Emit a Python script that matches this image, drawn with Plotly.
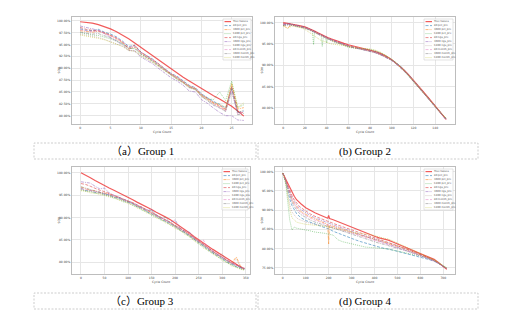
import plotly.graph_objects as go

W, H = 513, 328

# ---------------- series labels ----------------
LABELS = ["True Values", "80 pct_pre", "3600 pct_pre", "C400 pct_pre",
          "80 ngs_pre", "3600 ngs_pre", "C400 ngs_pre",
          "80 month_pre", "3600 month_pre", "C400 month_pre"]

# ---------------- Group 1 ----------------
g1_x = list(range(28))
g1_true = [99.8, 99.7, 99.5, 99.2, 98.8, 98.3, 97.7, 97.0, 96.2, 95.3, 94.4, 93.5, 92.6, 91.7,
           90.7, 89.8, 88.9, 88.1, 87.3, 86.5, 85.7, 85.0, 84.2, 83.5, 82.8, 82.0, 81.0, 79.9]
g1_p80 = [98.3, 98.0, 97.9, 98.2, 97.6, 97.2, 96.6, 95.7, 94.6, 94.8, 93.4, 92.7, 91.9, 90.8,
          89.9, 88.9, 88.3, 87.3, 86.4, 85.9, 84.6, 83.8, 83.0, 82.4, 81.6, 85.6, 80.6, 81.0]
g1_p3600 = [97.9, 97.7, 97.6, 97.8, 97.4, 96.9, 96.2, 95.4, 94.0, 94.5, 93.2, 92.4, 91.6, 90.6,
            89.7, 88.7, 88.0, 87.1, 86.2, 85.6, 84.2, 83.5, 82.6, 82.0, 81.2, 86.6, 81.4, 81.7]
g1_pC400 = [97.5, 97.2, 97.0, 96.9, 96.6, 96.2, 95.7, 95.1, 94.3, 94.1, 93.0, 92.3, 91.4, 90.5,
            89.5, 88.6, 87.8, 87.0, 86.0, 85.6, 84.4, 83.6, 83.4, 85.0, 83.2, 87.3, 81.7, 82.3]
g1_n80 = [98.6, 98.2, 98.0, 97.9, 97.5, 97.0, 96.4, 95.5, 94.2, 94.9, 93.4, 92.6, 91.8, 90.9,
          89.8, 88.8, 88.1, 87.2, 86.2, 85.8, 84.5, 83.7, 82.8, 82.2, 81.4, 86.2, 80.9, 80.6]
g1_n3600 = [98.9, 98.6, 98.3, 98.0, 97.3, 96.5, 95.8, 94.9, 93.8, 93.6, 92.4, 91.6, 90.9, 89.9,
            88.9, 88.0, 87.3, 86.4, 85.2, 85.0, 83.4, 82.6, 81.6, 80.7, 80.0, 80.0, 79.1, 79.0]
g1_nC400 = [97.2, 97.0, 96.7, 96.5, 96.1, 95.6, 95.1, 94.6, 93.8, 93.7, 92.7, 92.0, 91.2, 90.3,
            89.4, 88.4, 87.6, 86.8, 85.8, 85.5, 84.0, 83.3, 82.3, 81.8, 81.0, 84.8, 80.6, 81.2]
g1_m80 = [98.1, 97.9, 97.7, 97.9, 97.4, 96.9, 96.3, 95.6, 94.4, 94.6, 93.3, 92.5, 91.7, 90.7,
          89.7, 88.8, 88.0, 87.1, 86.1, 85.7, 84.3, 83.5, 82.5, 81.8, 81.0, 85.4, 80.3, 80.8]
g1_m3600 = [97.6, 97.4, 97.2, 97.3, 96.9, 96.4, 95.9, 95.2, 94.1, 94.3, 93.0, 92.2, 91.5, 90.5,
            89.5, 88.6, 87.8, 87.0, 86.0, 85.5, 84.1, 83.2, 82.2, 81.6, 80.9, 85.9, 80.2, 80.5]
g1_mC400 = [97.0, 96.8, 96.5, 96.3, 96.0, 95.5, 95.0, 94.6, 93.7, 93.6, 92.6, 92.0, 91.2, 90.3,
            89.4, 88.5, 87.7, 86.9, 86.0, 85.6, 84.3, 83.4, 82.7, 82.4, 81.8, 86.9, 81.8, 82.7]

# ---------------- Group 2 ----------------
g2_x = [0, 4, 8, 12, 16, 20, 24, 27, 28, 29, 32, 35, 36, 37, 39, 40, 41, 44, 48, 52, 56, 60,
        65, 70, 75, 80, 85, 90, 95, 100, 105, 110, 115, 120, 125, 130, 135, 140, 145, 150]
g2_true = [100.0, 99.85, 99.7, 99.5, 99.25, 99.0, 98.6, 98.2, 98.1, 98.0, 97.6, 97.2, 97.1, 97.0,
           96.7, 96.6, 96.5, 96.2, 95.8, 95.5, 95.1, 94.8, 94.5, 94.2, 93.9, 93.6, 93.2, 92.7,
           92.1, 91.3, 90.3, 89.2, 87.9, 86.5, 85.0, 83.5, 82.0, 80.5, 78.9, 77.3]
g2_p80 = [99.6, 99.7, 99.6, 99.4, 99.2, 98.9, 98.5, 98.1, 98.0, 97.9, 97.5, 97.1, 97.0, 96.9,
          96.6, 96.5, 96.4, 96.0, 95.6, 95.2, 94.8, 94.5, 94.2, 94.0, 93.7, 93.4, 93.1, 92.6,
          92.0, 91.3, 90.4, 89.3, 87.9, 86.4, 84.9, 83.4, 81.9, 80.4, 78.9, 77.4]
g2_p3600 = [99.4, 98.7, 99.5, 99.3, 99.1, 98.8, 98.4, 98.0, 97.9, 97.8, 97.4, 97.0, 96.9, 96.8,
            96.5, 96.4, 96.3, 95.9, 95.5, 95.1, 94.7, 94.4, 94.1, 93.9, 93.7, 93.4, 93.0, 92.5,
            91.9, 91.2, 90.2, 89.1, 87.7, 86.2, 84.8, 83.3, 81.8, 80.3, 78.8, 77.5]
g2_pC400 = [99.3, 99.5, 99.4, 99.2, 99.0, 98.7, 98.3, 97.9, 94.8, 97.8, 97.3, 96.9, 94.4, 96.7,
            96.4, 95.2, 96.2, 95.8, 95.3, 95.0, 94.6, 94.2, 94.0, 93.9, 93.8, 93.7, 93.4, 92.9,
            92.2, 91.3, 90.3, 89.0, 87.6, 86.0, 84.6, 83.2, 81.7, 80.2, 78.7, 77.6]
g2_n80 = [99.7, 99.8, 99.6, 99.4, 99.2, 98.9, 98.5, 98.1, 98.0, 97.9, 97.5, 97.1, 97.0, 96.9,
          96.6, 96.5, 96.4, 96.1, 95.7, 95.3, 94.9, 94.6, 94.3, 94.0, 93.7, 93.4, 93.0, 92.5,
          91.9, 91.2, 90.2, 89.1, 87.8, 86.3, 84.9, 83.4, 81.9, 80.4, 78.8, 77.3]
g2_n3600 = [99.5, 99.6, 99.5, 99.3, 99.1, 98.8, 98.4, 98.0, 97.9, 97.8, 97.4, 97.0, 96.9, 96.8,
            96.5, 96.4, 96.3, 96.0, 95.6, 95.2, 94.8, 94.5, 94.2, 93.9, 93.6, 93.3, 92.9, 92.4,
            91.8, 91.1, 90.1, 89.0, 87.7, 86.2, 84.7, 83.2, 81.7, 80.2, 78.7, 77.2]
g2_nC400 = [99.2, 99.4, 99.3, 99.1, 98.9, 98.6, 98.2, 97.8, 97.7, 97.6, 97.2, 96.8, 96.7, 96.6,
            96.3, 96.2, 96.1, 95.8, 95.4, 95.0, 94.7, 94.4, 94.1, 93.9, 93.7, 93.5, 93.1, 92.6,
            92.0, 91.2, 90.2, 89.1, 87.7, 86.2, 84.7, 83.3, 81.8, 80.3, 78.8, 77.4]
g2_m80 = [99.6, 99.7, 99.5, 99.3, 99.1, 98.8, 98.4, 98.0, 97.9, 97.8, 97.4, 97.0, 96.9, 96.8,
          96.5, 96.4, 96.3, 96.0, 95.6, 95.2, 94.8, 94.5, 94.2, 93.9, 93.7, 93.4, 93.0, 92.5,
          91.9, 91.2, 90.2, 89.1, 87.8, 86.3, 84.8, 83.3, 81.8, 80.3, 78.8, 77.3]
g2_m3600 = [99.3, 99.5, 99.4, 99.2, 99.0, 98.7, 98.3, 97.9, 97.8, 97.7, 97.3, 96.9, 96.8, 96.7,
            96.4, 96.3, 96.2, 95.9, 95.5, 95.1, 94.7, 94.4, 94.1, 93.8, 93.6, 93.3, 92.9, 92.4,
            91.8, 91.1, 90.1, 89.0, 87.7, 86.2, 84.7, 83.2, 81.7, 80.2, 78.7, 77.3]
g2_mC400 = [99.2, 98.6, 99.2, 99.0, 98.8, 98.4, 97.8, 97.2, 97.0, 96.8, 96.2, 95.8, 95.6, 95.6,
            95.5, 95.4, 95.3, 95.0, 94.9, 94.8, 94.6, 94.4, 94.2, 94.0, 93.9, 93.8, 93.5, 93.0,
            92.3, 91.4, 90.4, 89.2, 87.8, 86.3, 84.8, 83.4, 81.9, 80.4, 78.9, 77.6]

# ---------------- Group 3 ----------------
g3_x = [0, 10, 20, 30, 40, 50, 60, 70, 80, 90, 100, 110, 120, 130, 140, 150, 160, 170, 180,
        190, 200, 210, 220, 230, 240, 250, 260, 270, 280, 290, 300, 310, 320, 330, 340, 347]
g3_true = [100.0, 99.5, 98.9, 98.3, 97.7, 97.2, 96.6, 96.1, 95.6, 95.0, 94.5, 94.0, 93.4, 92.9,
           92.3, 91.8, 91.2, 90.7, 90.1, 89.5, 88.8, 88.1, 87.4, 86.6, 85.8, 85.0, 84.3, 83.6,
           82.9, 82.2, 81.5, 80.8, 80.1, 79.5, 78.9, 78.5]
g3_p80 = [96.6, 96.0, 96.1, 95.6, 95.7, 95.2, 95.1, 94.5, 94.4, 93.8, 93.5, 93.1, 92.4, 92.1,
          91.3, 90.9, 90.4, 89.7, 89.2, 88.6, 88.1, 87.3, 86.7, 86.0, 85.2, 84.4, 83.6, 82.9,
          82.1, 81.5, 80.8, 80.1, 79.6, 79.0, 78.7, 78.5]
g3_p3600 = [96.8, 96.4, 96.1, 96.0, 95.6, 95.5, 95.3, 94.8, 94.6, 94.0, 93.7, 93.3, 92.6, 92.3,
            91.6, 91.1, 90.6, 90.0, 89.4, 88.9, 88.2, 87.6, 87.0, 86.2, 85.4, 84.6, 83.9, 83.1,
            82.4, 81.8, 81.0, 80.4, 79.9, 81.2, 78.9, 78.7]
g3_pC400 = [96.2, 95.9, 95.8, 95.4, 95.4, 95.0, 94.8, 94.3, 94.1, 93.5, 93.4, 92.7, 92.4, 91.6,
            91.3, 90.5, 90.2, 89.4, 89.1, 88.3, 87.9, 87.1, 86.6, 85.7, 85.1, 84.1, 83.5, 82.6,
            82.1, 81.2, 80.7, 79.9, 79.4, 78.9, 78.5, 78.3]
g3_n80 = [97.6, 97.4, 97.0, 96.5, 96.1, 95.8, 95.4, 95.0, 94.6, 94.2, 93.8, 93.3, 92.8, 92.3,
          91.7, 91.2, 90.6, 90.1, 89.5, 88.9, 88.3, 87.7, 87.0, 86.3, 85.5, 84.7, 83.9, 83.2,
          82.5, 81.8, 81.1, 80.5, 79.9, 79.4, 79.0, 78.7]
g3_n3600 = [98.0, 97.9, 97.7, 97.0, 96.4, 96.6, 95.5, 95.0, 94.6, 94.2, 93.8, 93.3, 92.8, 92.2,
            91.7, 91.8, 90.6, 90.0, 89.5, 88.9, 89.5, 87.7, 87.0, 86.8, 85.5, 84.7, 83.9, 83.2,
            82.5, 81.8, 81.1, 80.5, 79.9, 79.3, 78.9, 78.6]
g3_nC400 = [96.3, 96.0, 95.9, 95.6, 95.4, 95.2, 94.9, 94.6, 94.2, 93.8, 93.4, 92.9, 92.4, 91.9,
            91.3, 90.8, 90.2, 89.7, 89.1, 88.5, 87.9, 87.3, 86.6, 85.9, 85.1, 84.3, 83.5, 82.8,
            82.1, 81.4, 81.9, 80.1, 79.5, 80.8, 78.6, 78.4]
g3_m80 = [96.5, 96.3, 96.1, 95.9, 95.7, 95.5, 95.2, 94.9, 94.5, 94.1, 93.7, 93.2, 92.7, 92.2,
          91.6, 91.1, 90.5, 90.0, 89.4, 88.8, 88.2, 87.6, 86.9, 86.2, 85.4, 84.6, 85.0, 83.1,
          82.4, 81.7, 81.0, 80.4, 79.8, 79.3, 78.9, 78.7]
g3_m3600 = [96.9, 96.6, 96.3, 95.9, 95.6, 95.4, 95.1, 94.8, 94.4, 94.0, 93.6, 93.1, 92.6, 92.1,
            91.5, 91.6, 90.4, 89.9, 90.0, 88.7, 88.1, 87.5, 86.8, 86.1, 85.3, 84.5, 83.7, 83.0,
            82.3, 81.6, 80.9, 80.3, 79.7, 79.2, 78.8, 78.6]
g3_mC400 = [96.0, 95.9, 95.5, 95.5, 95.1, 95.0, 94.6, 94.5, 93.9, 93.7, 93.1, 92.8, 92.1, 91.8,
            91.0, 90.7, 89.9, 89.6, 88.8, 88.4, 87.6, 87.2, 86.3, 85.8, 84.8, 84.2, 83.2, 82.7,
            81.8, 81.3, 80.4, 80.0, 79.2, 78.9, 78.4, 78.3]

# ---------------- Group 4 ----------------
g4_x = [0, 5, 10, 15, 20, 25, 30, 40, 50, 60, 70, 80, 100, 120, 140, 160, 180, 196, 200, 204,
        220, 240, 260, 280, 300, 320, 340, 360, 380, 400, 420, 440, 460, 480, 500, 520, 540,
        560, 580, 600, 620, 640, 660, 680, 700, 715]
g4_true = [99.6, 99.0, 98.3, 97.6, 97.0, 96.4, 95.9, 94.9, 93.6, 92.7, 92.1, 91.6, 90.6, 89.9,
           89.3, 88.8, 88.3, 87.9, 88.6, 87.8, 87.5, 87.0, 86.6, 86.2, 85.6, 85.0, 84.5, 84.0,
           83.5, 83.2, 82.8, 82.5, 82.2, 81.7, 81.2, 80.7, 80.3, 79.8, 79.3, 78.8, 78.3, 77.8,
           77.2, 76.3, 75.4, 74.6]
g4_p80 = [99.6, 99.0, 98.0, 96.8, 95.5, 94.2, 93.0, 91.2, 90.0, 89.1, 88.5, 88.0, 87.3, 86.8,
          86.3, 85.9, 85.5, 85.2, 85.0, 85.0, 84.5, 84.0, 83.5, 83.0, 82.6, 82.2, 81.8, 81.4,
          81.0, 80.7, 80.4, 80.1, 79.9, 79.6, 79.3, 79.0, 78.7, 78.4, 78.1, 77.8, 77.5, 77.2,
          76.8, 76.1, 75.4, 74.9]
g4_p3600 = [99.6, 99.0, 98.2, 97.3, 96.3, 95.3, 94.4, 92.8, 91.7, 90.8, 90.1, 89.6, 88.8, 88.2,
            87.7, 87.2, 86.7, 86.3, 81.2, 86.1, 85.8, 85.5, 85.1, 84.7, 84.3, 83.9, 83.5, 83.1,
            82.7, 82.4, 82.0, 81.7, 81.4, 81.0, 80.6, 80.2, 79.8, 79.4, 79.0, 78.5, 78.0, 77.5,
            77.0, 76.2, 75.4, 74.8]
g4_pC400 = [99.6, 98.8, 97.5, 95.8, 93.5, 90.5, 87.5, 84.8, 85.6, 85.3, 85.2, 85.0, 84.9, 84.6,
            84.3, 84.2, 84.0, 83.8, 83.8, 83.7, 83.5, 82.3, 81.8, 81.5, 81.2, 80.9, 80.6, 80.4,
            80.3, 80.2, 80.1, 80.0, 79.9, 79.6, 79.3, 79.0, 78.8, 78.5, 78.3, 78.1, 77.8, 77.4,
            77.0, 76.3, 75.4, 75.0]
g4_n80 = [99.6, 99.0, 98.3, 97.5, 96.7, 95.9, 95.2, 93.8, 92.7, 91.8, 91.1, 90.6, 89.7, 89.0,
          88.4, 87.9, 87.4, 87.0, 86.9, 86.8, 86.5, 86.1, 85.7, 85.3, 84.9, 84.4, 84.0, 83.6,
          83.1, 82.7, 82.3, 81.9, 81.5, 81.1, 80.7, 80.3, 79.9, 79.4, 79.0, 78.5, 78.0, 77.5,
          76.9, 76.2, 75.3, 74.7]
g4_n3600 = [99.6, 99.0, 98.2, 97.4, 96.5, 95.6, 94.8, 93.3, 92.2, 91.3, 90.6, 90.1, 89.3, 88.6,
            88.0, 87.5, 87.0, 86.6, 86.5, 86.4, 86.1, 85.7, 85.3, 84.9, 84.5, 84.1, 83.7, 83.3,
            82.9, 82.5, 82.1, 81.7, 81.3, 80.9, 80.5, 80.1, 79.7, 79.3, 78.8, 78.3, 77.8, 77.3,
            76.8, 76.1, 75.3, 74.8]
g4_nC400 = [99.6, 99.0, 98.0, 96.7, 95.1, 93.3, 91.5, 89.5, 88.6, 88.0, 87.6, 87.3, 86.9, 86.6,
            86.3, 86.1, 85.9, 85.7, 85.6, 85.5, 85.3, 85.0, 84.7, 84.4, 84.1, 83.7, 83.4, 83.1,
            82.8, 82.5, 82.2, 81.9, 81.6, 81.2, 80.8, 80.4, 80.0, 79.5, 79.1, 78.6, 78.1, 77.6,
            77.0, 76.2, 75.4, 74.9]
g4_m80 = [99.6, 99.0, 98.2, 97.2, 96.2, 95.2, 94.2, 92.6, 91.4, 90.5, 89.8, 89.3, 88.5, 87.9,
          87.4, 86.9, 86.5, 86.1, 86.0, 85.9, 85.6, 85.2, 84.8, 84.4, 84.0, 83.6, 83.2, 82.8,
          82.4, 82.0, 81.7, 81.3, 81.0, 80.6, 80.2, 79.8, 79.5, 79.1, 78.7, 78.3, 77.9, 77.4,
          76.9, 76.2, 75.4, 74.8]
g4_m3600 = [99.6, 99.0, 98.1, 97.0, 95.9, 94.8, 93.8, 92.1, 90.9, 90.0, 89.3, 88.8, 88.0, 87.4,
            86.9, 86.5, 86.1, 85.8, 85.7, 85.6, 85.3, 84.9, 84.5, 84.1, 83.7, 83.3, 82.9, 82.5,
            82.1, 81.8, 81.4, 81.1, 80.8, 80.4, 80.1, 79.7, 79.4, 79.0, 78.6, 78.2, 77.8, 77.3,
            76.8, 76.2, 75.4, 74.8]
g4_mC400 = [99.6, 98.9, 97.8, 96.4, 94.6, 92.5, 90.3, 88.0, 87.3, 86.9, 86.7, 86.5, 86.3, 86.2,
            86.1, 86.0, 85.9, 85.7, 85.6, 85.6, 85.4, 85.1, 84.8, 84.6, 84.3, 84.1, 83.9, 83.8,
            83.7, 83.3, 83.1, 82.7, 82.5, 82.0, 81.5, 80.9, 80.4, 79.9, 79.3, 78.7, 78.2, 77.7,
            77.1, 76.3, 75.5, 75.0]

# ---------------- tick values ----------------
g1_xticks = [0, 5, 10, 15, 20, 25]
g1_yticks = [80, 82.5, 85, 87.5, 90, 92.5, 95, 97.5, 100]
g2_xticks = [0, 20, 40, 60, 80, 100, 120, 140]
g2_yticks = [80, 85, 90, 95, 100]
g3_xticks = [0, 50, 100, 150, 200, 250, 300, 350]
g3_yticks = [80, 85, 90, 95, 100]
g4_xticks = [0, 100, 200, 300, 400, 500, 600, 700]
g4_yticks = [75, 80, 85, 90, 95, 100]

CAPTIONS = ["（a）Group 1", "(b) Group 2", "（c）Group 3", "(d) Group 4"]

# ---------------- styles ----------------
COLORS = ["rgba(238,50,50,0.8)", "rgba(31,119,180,0.7)", "rgba(255,127,14,0.7)",
          "rgba(44,160,44,0.55)", "rgba(214,39,40,0.65)", "rgba(148,103,189,0.7)",
          "rgba(140,86,75,0.4)", "rgba(227,119,194,0.65)", "rgba(127,127,127,0.65)",
          "rgba(188,189,34,0.6)"]
DASHES = ["solid", "3px,1.5px", "3px,1px,1px,1px", "1px,1px", "3px,1.5px", "3px,1px,1px,1px",
          "1px,1px", "3px,1.5px", "3px,1px,1px,1px", "1px,1px"]
WIDTHS = [1.2, 0.8, 0.8, 0.8, 0.8, 0.8, 0.8, 0.8, 0.8, 0.8]

groups = [
    (g1_x, [g1_true, g1_p80, g1_p3600, g1_pC400, g1_n80, g1_n3600, g1_nC400, g1_m80, g1_m3600, g1_mC400]),
    (g2_x, [g2_true, g2_p80, g2_p3600, g2_pC400, g2_n80, g2_n3600, g2_nC400, g2_m80, g2_m3600, g2_mC400]),
    (g3_x, [g3_true, g3_p80, g3_p3600, g3_pC400, g3_n80, g3_n3600, g3_nC400, g3_m80, g3_m3600, g3_mC400]),
    (g4_x, [g4_true, g4_p80, g4_p3600, g4_pC400, g4_n80, g4_n3600, g4_nC400, g4_m80, g4_m3600, g4_mC400]),
]

# panel geometry in pixels: frame (left, top, right, bottom), legend box, caption box
panels = [
    dict(frame=(72, 17, 252, 124), xr=[-1.35, 28.35], yr=[78.25, 100.8],
         xt=g1_xticks, yt=g1_yticks, leg=(223, 19, 251, 60), cap=(34, 143, 256, 159)),
    dict(frame=(275, 17, 455, 124), xr=[-7.5, 158.2], yr=[76.2, 101.3],
         xt=g2_xticks, yt=g2_yticks, leg=(424, 19, 453, 60), cap=(258, 143, 478, 159)),
    dict(frame=(72, 167, 250, 274), xr=[-19, 359], yr=[77.4, 101.3],
         xt=g3_xticks, yt=g3_yticks, leg=(222, 169, 248, 210), cap=(34, 293, 256, 309)),
    dict(frame=(275, 167, 455, 274), xr=[-34, 751], yr=[73.4, 101.2],
         xt=g4_xticks, yt=g4_yticks, leg=(424, 169, 453, 210), cap=(258, 293, 478, 309)),
]

SERIF = "'Liberation Serif', 'Times New Roman', 'Noto Sans CJK SC', serif"


def fx(px):
    return px / W


def fy(py):
    return 1 - py / H


fig = go.Figure()
layout = dict(width=W, height=H, margin=dict(l=0, r=0, t=0, b=0),
              paper_bgcolor="white", plot_bgcolor="white", showlegend=False)
shapes, annotations = [], []
tick_font = dict(family="DejaVu Sans", size=3, color="#444")

for i, ((xs, series), p) in enumerate(zip(groups, panels)):
    n = "" if i == 0 else str(i + 1)
    xa, ya = "x" + n, "y" + n
    l, t, r, b = p["frame"]
    for k, ys in enumerate(series):
        fig.add_trace(go.Scatter(x=xs, y=ys, mode="lines", name=LABELS[k], xaxis=xa, yaxis=ya,
                                 line=dict(color=COLORS[k], width=WIDTHS[k], dash=DASHES[k])))
    common = dict(showgrid=True, gridcolor="#e6e6e6", gridwidth=0.8, zeroline=False,
                  showline=True, mirror=True, linecolor="#bdbdbd", linewidth=1,
                  ticks="", tickfont=tick_font, automargin=False)
    layout["xaxis" + n] = dict(domain=[fx(l), fx(r)], anchor=ya, range=p["xr"],
                               tickmode="array", tickvals=p["xt"],
                               ticktext=[str(v) for v in p["xt"]], **common)
    layout["yaxis" + n] = dict(domain=[fy(b), fy(t)], anchor=xa, range=p["yr"],
                               tickmode="array", tickvals=p["yt"],
                               ticktext=[f"{v:.2f}%" for v in p["yt"]], **common)
    # axis titles
    annotations.append(dict(text="SOH", x=fx(l - 14), y=fy((t + b) / 2), xref="paper", yref="paper",
                            textangle=-90, showarrow=False, font=tick_font,
                            xanchor="center", yanchor="middle"))
    annotations.append(dict(text="Cycle Count", x=fx((l + r) / 2), y=fy(b + 7.5), xref="paper",
                            yref="paper", showarrow=False, font=tick_font,
                            xanchor="center", yanchor="middle"))
    # legend box
    ll, lt, lr, lb = p["leg"]
    shapes.append(dict(type="rect", xref="paper", yref="paper", x0=fx(ll), x1=fx(lr),
                       y0=fy(lb), y1=fy(lt), fillcolor="rgba(255,255,255,0.85)",
                       line=dict(color="#d0d0d0", width=0.6), layer="above"))
    for k, name in enumerate(LABELS):
        yy = lt + 2.6 + k * 4.0
        shapes.append(dict(type="line", xref="paper", yref="paper", x0=fx(ll + 1.5),
                           x1=fx(ll + 8), y0=fy(yy), y1=fy(yy), layer="above",
                           line=dict(color=COLORS[k], width=WIDTHS[k], dash=DASHES[k])))
        annotations.append(dict(text=name, x=fx(ll + 9), y=fy(yy), xref="paper", yref="paper",
                                showarrow=False, xanchor="left", yanchor="middle", borderpad=0,
                                font=dict(family="DejaVu Sans", size=2.6, color="#555")))
    # caption box
    cl, ct, cr, cb = p["cap"]
    shapes.append(dict(type="rect", xref="paper", yref="paper", x0=fx(cl), x1=fx(cr),
                       y0=fy(cb), y1=fy(ct),
                       line=dict(color="#b8b8b8", width=0.7, dash="2px,1.5px"),
                       layer="above"))
    annotations.append(dict(text=CAPTIONS[i], x=fx((cl + cr) / 2 - 3), y=fy((ct + cb) / 2),
                            xref="paper", yref="paper", showarrow=False,
                            xanchor="center", yanchor="middle",
                            font=dict(family=SERIF, size=11, color="black")))

layout["shapes"] = shapes
layout["annotations"] = annotations
fig.update_layout(**layout)
fig.write_html("out.html")
